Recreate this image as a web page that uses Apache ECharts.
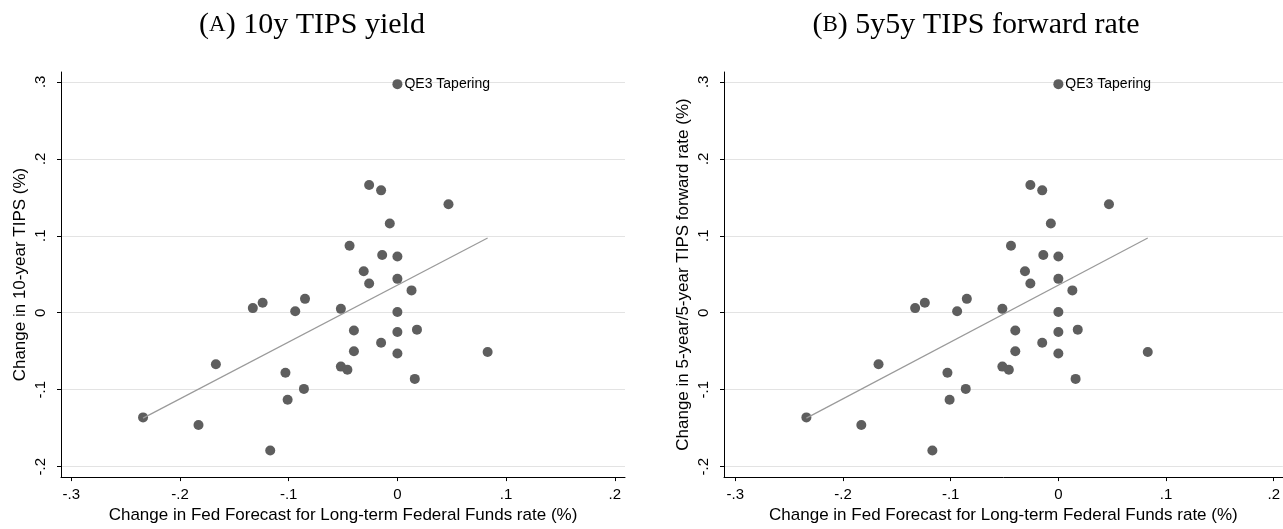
<!DOCTYPE html>
<html>
<head>
<meta charset="utf-8">
<style>
  html, body { margin: 0; padding: 0; background: #fff; }
  #chart { width: 1283px; height: 529px; }
</style>
<script src="https://cdn.jsdelivr.net/npm/echarts@6/dist/echarts.min.js"></script>
</head>
<body>
<div id="chart"></div>
<script>
  // change in the Fed's long-run funds-rate forecast (x), shared by both panels
  const fedChange = [0, -0.026, -0.015, 0.047, -0.007, -0.044, -0.014, 0, -0.031, 0, -0.026, 0.013,
    -0.085, -0.052, 0, -0.040, 0, 0.018, -0.015, -0.040, 0, 0.083, -0.052, -0.046, 0.016, -0.086,
    -0.133, -0.124, -0.094, -0.167, -0.103, -0.101, -0.234, -0.183, -0.117];
  // panel A: change in 10-year TIPS yield
  const tipsChange = [0.297, 0.166, 0.159, 0.141, 0.116, 0.087, 0.075, 0.073, 0.054, 0.044, 0.038, 0.029,
    0.018, 0.005, 0.001, -0.023, -0.025, -0.022, -0.039, -0.050, -0.053, -0.051, -0.070, -0.074, -0.086, -0.099,
    0.006, 0.013, 0.002, -0.067, -0.078, -0.113, -0.136, -0.146, -0.179];
  // panel B: change in 5y5y TIPS forward rate
  const fwdChange = [0.297, 0.166, 0.159, 0.141, 0.116, 0.087, 0.075, 0.073, 0.054, 0.044, 0.038, 0.029,
    0.018, 0.005, 0.001, -0.023, -0.025, -0.022, -0.039, -0.050, -0.053, -0.051, -0.070, -0.074, -0.086, -0.099,
    0.006, 0.013, 0.002, -0.067, -0.078, -0.113, -0.136, -0.146, -0.179];
  const labelIdx = 0;
  const labelText = 'QE3 Tapering';
  // fitted line ends
  const fitX = [-0.234, 0.083];
  const fitTips = [-0.137, 0.097];
  const fitFwd = [-0.137, 0.097];
  const xTicks = [-0.3, -0.2, -0.1, 0, 0.1, 0.2];
  const yTicks = [-0.2, -0.1, 0, 0.1, 0.2, 0.3];

  const font = 'Liberation Sans';
  const fmt = function (v) {
    if (Math.abs(v) < 1e-9) return '0';
    return String(+v.toFixed(1)).replace('0.', '.');
  };

  function pts(ys) {
    return fedChange.map(function (x, i) {
      const item = { value: [x, ys[i]] };
      if (i === labelIdx) {
        item.label = {
          show: true, position: 'right', distance: 2, formatter: labelText,
          color: '#000', fontFamily: font, fontSize: 14
        };
      }
      return item;
    });
  }

  function xAxis(idx, min, max, name) {
    return {
      gridIndex: idx, type: 'value', min: min, max: max,
      name: name, nameLocation: 'middle', nameGap: 26,
      nameTextStyle: { color: '#000', fontFamily: font, fontSize: 17 },
      axisLine: { show: true, onZero: false, lineStyle: { color: '#000', width: 1 } },
      axisTick: { show: true, length: 4, customValues: xTicks, lineStyle: { color: '#000' } },
      axisLabel: { customValues: xTicks, formatter: fmt, margin: 10, color: '#000', fontFamily: font, fontSize: 15 },
      splitLine: { show: false }
    };
  }

  function yAxis(idx, name) {
    return {
      gridIndex: idx, type: 'value', min: -0.2136, max: 0.3128,
      name: name, nameLocation: 'middle', nameGap: 32, nameRotate: 90,
      nameTextStyle: { color: '#000', fontFamily: font, fontSize: 17 },
      axisLine: { show: true, onZero: false, lineStyle: { color: '#000', width: 1 } },
      axisTick: { show: true, length: 4, customValues: yTicks, lineStyle: { color: '#000' } },
      axisLabel: { customValues: yTicks, formatter: fmt, rotate: 90, margin: 13, color: '#000', fontFamily: font, fontSize: 15 },
      splitLine: { show: true, lineStyle: { color: '#e3e3e3', width: 1.2 } }
    };
  }

  const titleStyle = {
    color: '#000', fontFamily: 'Liberation Serif', fontSize: 30, fontWeight: 'normal',
    rich: {
      p: { fontFamily: 'Liberation Serif', fontSize: 30, color: '#000' },
      sc: { fontFamily: 'Liberation Serif', fontSize: 23, color: '#000' },
      t: { fontFamily: 'Liberation Serif', fontSize: 30, color: '#000' }
    }
  };

  const chart = echarts.init(document.getElementById('chart'));
  chart.setOption({
    backgroundColor: '#fff',
    animation: false,
    title: [
      { text: '{p|(}{sc|A}{p|)}{t| 10y TIPS yield}', left: 312, top: 10, textAlign: 'center', padding: 0, textStyle: titleStyle },
      { text: '{p|(}{sc|B}{p|)}{t| 5y5y TIPS forward rate}', left: 976, top: 10, textAlign: 'center', padding: 0, textStyle: titleStyle }
    ],
    grid: [
      { left: 61, top: 72, width: 564, height: 411 },
      { left: 724, top: 72, width: 564, height: 411 }
    ],
    xAxis: [
      xAxis(0, -0.3095, 0.2094, 'Change in Fed Forecast for Long-term Federal Funds rate (%)'),
      xAxis(1, -0.3105, 0.2084, 'Change in Fed Forecast for Long-term Federal Funds rate (%)')
    ],
    yAxis: [
      yAxis(0, 'Change in 10-year TIPS (%)'),
      yAxis(1, 'Change in 5-year/5-year TIPS forward rate (%)')
    ],
    series: [
      {
        type: 'line', xAxisIndex: 0, yAxisIndex: 0, symbol: 'none', silent: true,
        lineStyle: { color: '#9a9a9a', width: 1.2 },
        data: fitX.map(function (x, i) { return [x, fitTips[i]]; })
      },
      {
        type: 'scatter', xAxisIndex: 0, yAxisIndex: 0, symbolSize: 10,
        itemStyle: { color: '#5e5e5e', opacity: 1 },
        data: pts(tipsChange)
      },
      {
        type: 'line', xAxisIndex: 1, yAxisIndex: 1, symbol: 'none', silent: true,
        lineStyle: { color: '#9a9a9a', width: 1.2 },
        data: fitX.map(function (x, i) { return [x, fitFwd[i]]; })
      },
      {
        type: 'scatter', xAxisIndex: 1, yAxisIndex: 1, symbolSize: 10,
        itemStyle: { color: '#5e5e5e', opacity: 1 },
        data: pts(fwdChange)
      }
    ]
  });
</script>
</body>
</html>
